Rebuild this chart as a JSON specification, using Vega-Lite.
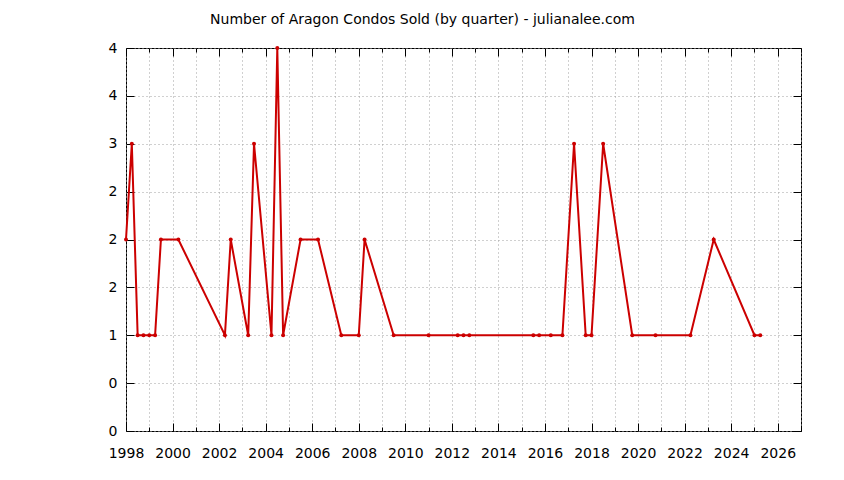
{
  "$schema": "https://vega.github.io/schema/vega-lite/v6.json",
  "autosize": {"type": "none"},
  "width": 675,
  "height": 383,
  "padding": {"left": 126, "top": 48, "right": 43, "bottom": 49},
  "background": "#ffffff",
  "title": {
    "text": "Number of Aragon Condos Sold (by quarter) - julianalee.com",
    "font": "DejaVu Sans",
    "fontSize": 14,
    "fontWeight": "normal",
    "color": "#000000",
    "anchor": "middle",
    "frame": "group",
    "dx": -41,
    "offset": 14
  },
  "data": {
    "values": [
      {"date": 1998.0, "sold": 2},
      {"date": 1998.25, "sold": 3},
      {"date": 1998.5, "sold": 1},
      {"date": 1998.75, "sold": 1},
      {"date": 1999.0, "sold": 1},
      {"date": 1999.25, "sold": 1},
      {"date": 1999.5, "sold": 2},
      {"date": 2000.25, "sold": 2},
      {"date": 2002.25, "sold": 1},
      {"date": 2002.5, "sold": 2},
      {"date": 2003.25, "sold": 1},
      {"date": 2003.5, "sold": 3},
      {"date": 2004.25, "sold": 1},
      {"date": 2004.5, "sold": 4},
      {"date": 2004.75, "sold": 1},
      {"date": 2005.5, "sold": 2},
      {"date": 2006.25, "sold": 2},
      {"date": 2007.25, "sold": 1},
      {"date": 2008.0, "sold": 1},
      {"date": 2008.25, "sold": 2},
      {"date": 2009.5, "sold": 1},
      {"date": 2011.0, "sold": 1},
      {"date": 2012.25, "sold": 1},
      {"date": 2012.5, "sold": 1},
      {"date": 2012.75, "sold": 1},
      {"date": 2015.5, "sold": 1},
      {"date": 2015.75, "sold": 1},
      {"date": 2016.25, "sold": 1},
      {"date": 2016.75, "sold": 1},
      {"date": 2017.25, "sold": 3},
      {"date": 2017.75, "sold": 1},
      {"date": 2018.0, "sold": 1},
      {"date": 2018.5, "sold": 3},
      {"date": 2019.75, "sold": 1},
      {"date": 2020.75, "sold": 1},
      {"date": 2022.25, "sold": 1},
      {"date": 2023.25, "sold": 2},
      {"date": 2025.0, "sold": 1},
      {"date": 2025.25, "sold": 1}
    ]
  },
  "layer": [
    {
      "mark": {
        "type": "line",
        "color": "#cc0000",
        "strokeWidth": 2,
        "point": {"filled": true, "color": "#cc0000", "size": 16}
      },
      "encoding": {
        "x": {
          "field": "date",
          "type": "quantitative",
          "scale": {"domain": [1998, 2027], "nice": false, "zero": false},
          "axis": {
            "orient": "bottom",
            "title": null,
            "grid": true,
            "values": [1998, 2000, 2002, 2004, 2006, 2008, 2010, 2012, 2014, 2016, 2018, 2020, 2022, 2024, 2026],
            "format": "d",
            "labelOverlap": false,
            "labelFlush": false,
            "labelBound": false,
            "tickSize": -8,
            "labelPadding": 23
          }
        },
        "y": {
          "field": "sold",
          "type": "quantitative",
          "scale": {"domain": [0, 4], "nice": false},
          "axis": {
            "orient": "left",
            "title": null,
            "grid": true,
            "values": [0, 0.5, 1, 1.5, 2, 2.5, 3, 3.5, 4],
            "labelExpr": "datum.value == 0.5 ? '0' : datum.value == 1.5 ? '2' : datum.value == 2.5 ? '2' : datum.value == 3.5 ? '4' : format(datum.value, 'd')",
            "labelOverlap": false,
            "labelFlush": false,
            "labelBound": false,
            "tickSize": -8,
            "labelPadding": 17
          }
        }
      }
    },
    {
      "mark": {"type": "line", "opacity": 0},
      "encoding": {
        "x": {
          "field": "date",
          "type": "quantitative",
          "axis": {
            "orient": "bottom",
            "title": null,
            "labels": false,
            "grid": true,
            "values": [1999, 2001, 2003, 2005, 2007, 2009, 2011, 2013, 2015, 2017, 2019, 2021, 2023, 2025, 2027],
            "tickSize": -4
          }
        },
        "y": {"field": "sold", "type": "quantitative", "axis": null}
      }
    },
    {
      "mark": {"type": "line", "opacity": 0},
      "encoding": {
        "x": {
          "field": "date",
          "type": "quantitative",
          "axis": {
            "orient": "top",
            "title": null,
            "labels": false,
            "grid": false,
            "values": [1999, 2001, 2003, 2005, 2007, 2009, 2011, 2013, 2015, 2017, 2019, 2021, 2023, 2025, 2027],
            "tickSize": -4
          }
        },
        "y": {"field": "sold", "type": "quantitative", "axis": null}
      }
    },
    {
      "mark": {"type": "line", "opacity": 0},
      "encoding": {
        "x": {
          "field": "date",
          "type": "quantitative",
          "axis": {
            "orient": "top",
            "title": null,
            "grid": false,
            "labels": false,
            "values": [1998, 2000, 2002, 2004, 2006, 2008, 2010, 2012, 2014, 2016, 2018, 2020, 2022, 2024, 2026],
            "tickSize": -8
          }
        },
        "y": {
          "field": "sold",
          "type": "quantitative",
          "axis": {
            "orient": "right",
            "title": null,
            "grid": false,
            "labels": false,
            "values": [0, 0.5, 1, 1.5, 2, 2.5, 3, 3.5, 4],
            "tickSize": -8
          }
        }
      }
    }
  ],
  "resolve": {"axis": {"x": "independent", "y": "independent"}},
  "config": {
    "view": {"stroke": "#000000", "strokeWidth": 1},
    "axis": {
      "domain": false,
      "gridColor": "#a0a0a0",
      "gridDash": [1, 3],
      "gridWidth": 1,
      "tickColor": "#000000",
      "tickWidth": 1,
      "labelFont": "DejaVu Sans",
      "labelFontSize": 14,
      "labelColor": "#000000"
    }
  }
}
